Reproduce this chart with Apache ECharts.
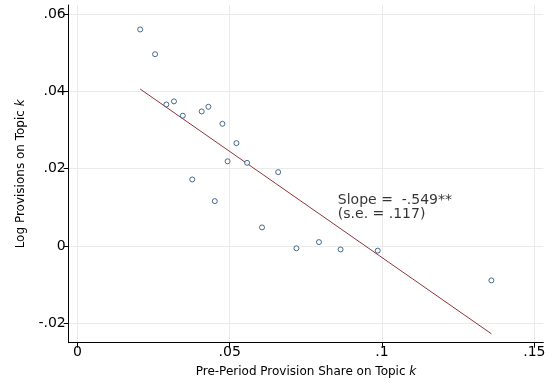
<!DOCTYPE html>
<html>
<head>
<meta charset="utf-8">
<script src="https://cdn.jsdelivr.net/npm/echarts@6/dist/echarts.min.js"></script>
<style>
  html, body { margin: 0; padding: 0; background: #fff; }
  #chart { width: 549px; height: 383px; }
</style>
</head>
<body>
<div id="chart"></div>
<script>
// Pre-period provision share (x) and log provisions (y) per topic
const shareX = [0.0206, 0.0255, 0.0292, 0.0317, 0.0346, 0.0408, 0.0430, 0.0476, 0.0522, 0.0493,
                0.0557, 0.0659, 0.0377, 0.0451, 0.0606, 0.0719, 0.0793, 0.0864, 0.0986, 0.1359];
const logProvY = [0.0560, 0.0496, 0.0366, 0.0374, 0.0337, 0.0348, 0.0360, 0.0316, 0.0266, 0.0219,
                  0.0215, 0.0191, 0.0172, 0.0116, 0.0048, -0.0006, 0.0010, -0.0009, -0.0012, -0.0089];

// Fitted line
const slope = -0.549;
const intercept = 0.0519;
const fitRangeX = [0.0206, 0.1359];

// Axis ticks
const xTicks = [0, 0.05, 0.1, 0.15];
const xTickLabels = ['0', '.05', '.1', '.15'];
const yTicks = [-0.02, 0, 0.02, 0.04, 0.06];
const yTickLabels = ['-.02', '0', '.02', '.04', '.06'];

// Annotation
const slopeText = ['Slope =  -.549**', '(s.e. = .117)'];
const slopeTextPos = [0.0855, 0.0099];

const points = shareX.map((x, i) => [x, logProvY[i]]);
const fitLine = fitRangeX.map(x => [x, intercept + slope * x]);

function tickLabel(ticks, labels) {
  return v => {
    let best = 0;
    for (let i = 1; i < ticks.length; i++) {
      if (Math.abs(ticks[i] - v) < Math.abs(ticks[best] - v)) best = i;
    }
    return labels[best];
  };
}

const FONT = 'DejaVu Sans';
const chart = echarts.init(document.getElementById('chart'), null, { renderer: 'canvas' });

chart.setOption({
  animation: false,
  backgroundColor: '#ffffff',
  grid: { left: 68.7, right: 5.7, top: 5, bottom: 40.3, containLabel: false },
  xAxis: {
    type: 'value',
    min: -0.00286,
    max: 0.15295,
    name: 'Pre-Period Provision Share on Topic {i|k}',
    nameLocation: 'middle',
    nameGap: 23,
    nameTextStyle: {
      fontFamily: FONT, fontSize: 12, color: '#000',
      rich: { i: { fontFamily: FONT, fontSize: 12, fontStyle: 'italic', color: '#000' } }
    },
    axisLine: { show: true, onZero: false, lineStyle: { color: '#000', width: 1 } },
    axisTick: { show: true, length: 5, customValues: xTicks, lineStyle: { color: '#000' } },
    axisLabel: {
      customValues: xTicks, margin: 3, fontFamily: FONT, fontSize: 14, color: '#000',
      formatter: tickLabel(xTicks, xTickLabels)
    },
    splitLine: { show: true, customValues: xTicks, lineStyle: { color: '#eaeaea', width: 1 } }
  },
  yAxis: {
    type: 'value',
    min: -0.02502,
    max: 0.06233,
    name: 'Log Provisions on Topic {i|k}',
    nameLocation: 'middle',
    nameGap: 42,
    nameTextStyle: {
      fontFamily: FONT, fontSize: 12, color: '#000',
      rich: { i: { fontFamily: FONT, fontSize: 12, fontStyle: 'italic', color: '#000' } }
    },
    axisLine: { show: true, onZero: false, lineStyle: { color: '#000', width: 1 } },
    axisTick: { show: true, length: 5, customValues: yTicks, lineStyle: { color: '#000' } },
    axisLabel: {
      customValues: yTicks, margin: 3, fontFamily: FONT, fontSize: 14, color: '#000',
      formatter: tickLabel(yTicks, yTickLabels)
    },
    splitLine: { show: true, customValues: yTicks, lineStyle: { color: '#eaeaea', width: 1 } }
  },
  series: [
    {
      type: 'line',
      data: fitLine,
      symbol: 'none',
      lineStyle: { color: '#90353b', width: 1 },
      z: 2
    },
    {
      type: 'scatter',
      data: points,
      symbol: 'circle',
      symbolSize: 5,
      itemStyle: { color: '#ffffff', borderColor: '#1a476f', borderWidth: 1 },
      z: 3
    },
    {
      type: 'scatter',
      data: [slopeTextPos],
      symbolSize: 0,
      silent: true,
      label: {
        show: true,
        position: 'right',
        distance: 0,
        formatter: slopeText.join('\n'),
        fontFamily: FONT,
        fontSize: 14,
        lineHeight: 14,
        color: '#000'
      },
      z: 4
    }
  ]
});
</script>
</body>
</html>
